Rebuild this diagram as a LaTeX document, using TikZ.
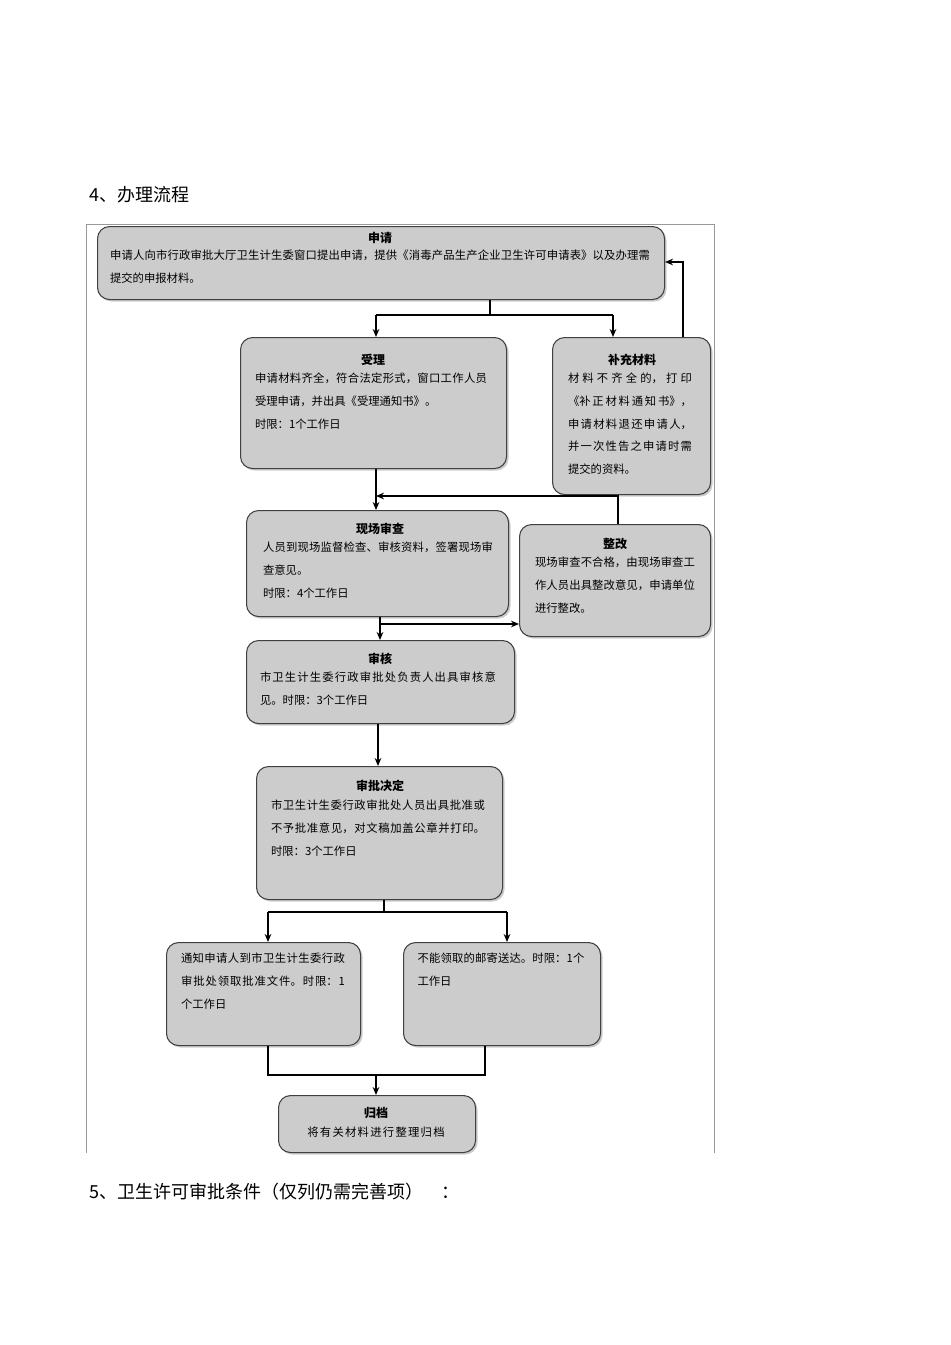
\documentclass[tikz,border=0pt]{standalone}
\usepackage{fontspec}
\setmainfont{Noto Sans CJK SC}
\XeTeXlinebreaklocale "zh"
\XeTeXlinebreakskip=0pt plus 1pt
\usetikzlibrary{arrows.meta,shadows}
\begin{document}
\begin{tikzpicture}[x=0.75pt,y=-0.75pt,
  box/.style={draw=black!75,line width=0.8pt,rounded corners=9pt,fill=black!20,drop shadow={shadow xshift=1.5pt,shadow yshift=-1.5pt,fill=black!40},anchor=north west,inner sep=0pt},
  txt/.style={anchor=north,align=justify,font=\fontsize{8.5}{17}\selectfont,inner sep=0pt},
  ttl/.style={font=\bfseries\fontsize{9}{11}\selectfont,inner sep=0pt,anchor=north},
  conn/.style={draw=black,line width=1pt},
  arr/.style={conn,-{Stealth[length=6pt,width=5pt]}}]
\useasboundingbox (0,0) rectangle (950,1345);
\node[anchor=west,font=\fontsize{13.5}{16}\selectfont] (h4) at (85,195) {4、办理流程};
\node[anchor=west,font=\fontsize{13.5}{16}\selectfont] (h5) at (85,1192) {5、卫生许可审批条件（仅列仍需完善项）\quad：};
\draw[black!40,line width=0.6pt] (86,224) -- (714,224) (86,224) -- (86,1153) (714,224) -- (714,1153);
% boxes
\node[box,minimum width=567*0.75pt,minimum height=73*0.75pt] (sq) at (97,226) {};
\node[box,minimum width=266*0.75pt,minimum height=131*0.75pt] (sl) at (240,337) {};
\node[box,minimum width=158*0.75pt,minimum height=157*0.75pt] (bc) at (552,337) {};
\node[box,minimum width=262*0.75pt,minimum height=106*0.75pt] (xc) at (246,510) {};
\node[box,minimum width=191*0.75pt,minimum height=112*0.75pt] (zg) at (519,524) {};
\node[box,minimum width=268*0.75pt,minimum height=83*0.75pt] (sh) at (246,640) {};
\node[box,minimum width=246*0.75pt,minimum height=133*0.75pt] (sp) at (256,766) {};
\node[box,minimum width=194*0.75pt,minimum height=103*0.75pt] (tz) at (166,942) {};
\node[box,minimum width=197*0.75pt,minimum height=103*0.75pt] (yj) at (403,942) {};
\node[box,minimum width=197*0.75pt,minimum height=57*0.75pt] (gd) at (278,1095) {};
% texts
\node[ttl] at (380,232) {申请};
\node[txt,text width=540*0.75pt] at (380,250) {申请人向市行政审批大厅卫生计生委窗口提出申请，提供《消毒产品生产企业卫生许可申请表》以及办理需提交的申报材料。};
\node[ttl] at (373,354) {受理};
\node[txt,text width=232*0.75pt] at (371,373) {申请材料齐全，符合法定形式，窗口工作人员受理申请，并出具《受理通知书》。\\时限：1个工作日};
\node[ttl] at (632,354) {补充材料};
\node[txt,text width=124*0.75pt] at (630,373) {材料不齐全的，打印《补正材料通知书》，申请材料退还申请人，并一次性告之申请时需提交的资料。};
\node[ttl] at (380,523) {现场审查};
\node[txt,text width=230*0.75pt] at (378,542) {人员到现场监督检查、审核资料，签署现场审查意见。\\时限：4个工作日};
\node[ttl] at (615,538) {整改};
\node[txt,text width=160*0.75pt] at (615,557) {现场审查不合格，由现场审查工作人员出具整改意见，申请单位进行整改。};
\node[ttl] at (380,653) {审核};
\node[txt,text width=236*0.75pt] at (378,672) {市卫生计生委行政审批处负责人出具审核意见。时限：3个工作日};
\node[ttl] at (380,780) {审批决定};
\node[txt,text width=214*0.75pt] at (378,800) {市卫生计生委行政审批处人员出具批准或不予批准意见，对文稿加盖公章并打印。时限：3个工作日};
\node[txt,text width=164*0.75pt] at (263,953) {通知申请人到市卫生计生委行政审批处领取批准文件。时限：1个工作日};
\node[txt,text width=167*0.75pt] at (501,953) {不能领取的邮寄送达。时限：1个工作日};
\node[ttl] at (376,1107) {归档};
\node[txt,text width=180*0.75pt,align=center] at (376,1127) {将有关材料进行整理归档};
% connectors
\coordinate (j1) at (490,315);
\draw[conn] (sq.south -| j1) -- (j1);
\draw[conn] (376,315) -- (613,315);
\draw[arr] (376,315) -- (sl.north -| 376,0);
\draw[arr] (613,315) -- (bc.north -| 613,0);
\draw[arr] (bc.north -| 683,0) -- (683,262) -- (sq.east |- 0,262);
\draw[arr] (sl.south -| 376,0) -- (xc.north -| 376,0);
\draw[arr] (zg.north -| 618,0) -- (618,496) -- (376,496);
\draw[arr] (xc.south -| 380,0) -- (sh.north -| 380,0);
\draw[arr] (380,624) -- (zg.west |- 0,624);
\draw[arr,line width=2pt] (sh.south -| 378,0) -- (sp.north -| 378,0);
\draw[conn] (sp.south -| 384,0) -- (384,912);
\draw[conn] (268,912) -- (507,912);
\draw[arr] (268,912) -- (tz.north -| 268,0);
\draw[arr] (507,912) -- (yj.north -| 507,0);
\draw[conn] (tz.south -| 268,0) -- (268,1075) -- (485,1075) -- (yj.south -| 485,0);
\draw[arr] (376,1075) -- (gd.north -| 376,0);
\end{tikzpicture}
\end{document}
